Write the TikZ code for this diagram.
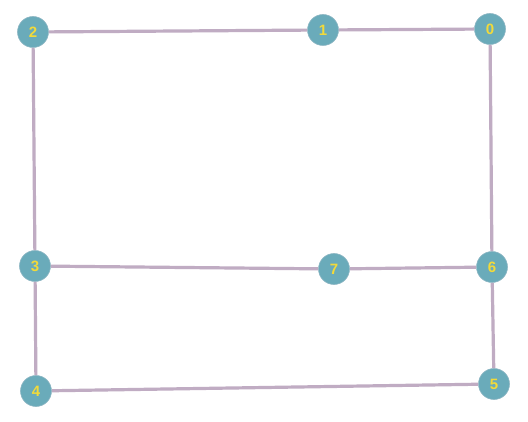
\documentclass[tikz,border=0pt]{standalone}
\usepackage{fontspec}
\setmainfont{Liberation Sans}
\usetikzlibrary{positioning}
\definecolor{vfill}{HTML}{6AABBA}
\definecolor{vline}{HTML}{8FB7C4}
\definecolor{elabel}{HTML}{F2DA3A}
\definecolor{eedge}{HTML}{C0ACC3}
\tikzset{
	vertex/.style={circle, fill=vfill, draw=vline, line width=0.6pt, minimum size=31pt, inner sep=0pt, text=elabel, font=\bfseries\fontsize{15}{15}\selectfont},
	link/.style={line width=3.2pt, color=eedge}
}

\begin{document}
\begin{tikzpicture}[x=1pt, y=-1pt]
		%%%%% START %%%%%
		
		\useasboundingbox[fill=white] (0, 0) rectangle (528, 422);
		
		\node[vertex] (n0) at (490, 29) {0};
		\node[vertex] (n1) at (323, 30) {1};
		\node[vertex] (n2) at (33, 32) {2};
		\node[vertex] (n3) at (35, 266) {3};
		\node[vertex] (n4) at (36, 391) {4};
		\node[vertex] (n5) at (494, 384) {5};
		\node[vertex] (n6) at (492, 267) {6};
		\node[vertex] (n7) at (334, 269) {7};
		
		\draw[link] (n0) -- (n1);
		\draw[link] (n1) -- (n2);
		\draw[link] (n2) -- (n3);
		\draw[link] (n3) -- (n7);
		\draw[link] (n7) -- (n6);
		\draw[link] (n6) -- (n0);
		\draw[link] (n3) -- (n4);
		\draw[link] (n4) -- (n5);
		\draw[link] (n5) -- (n6);
		
		%%%%% END %%%%%
	\end{tikzpicture}
\end{document}
